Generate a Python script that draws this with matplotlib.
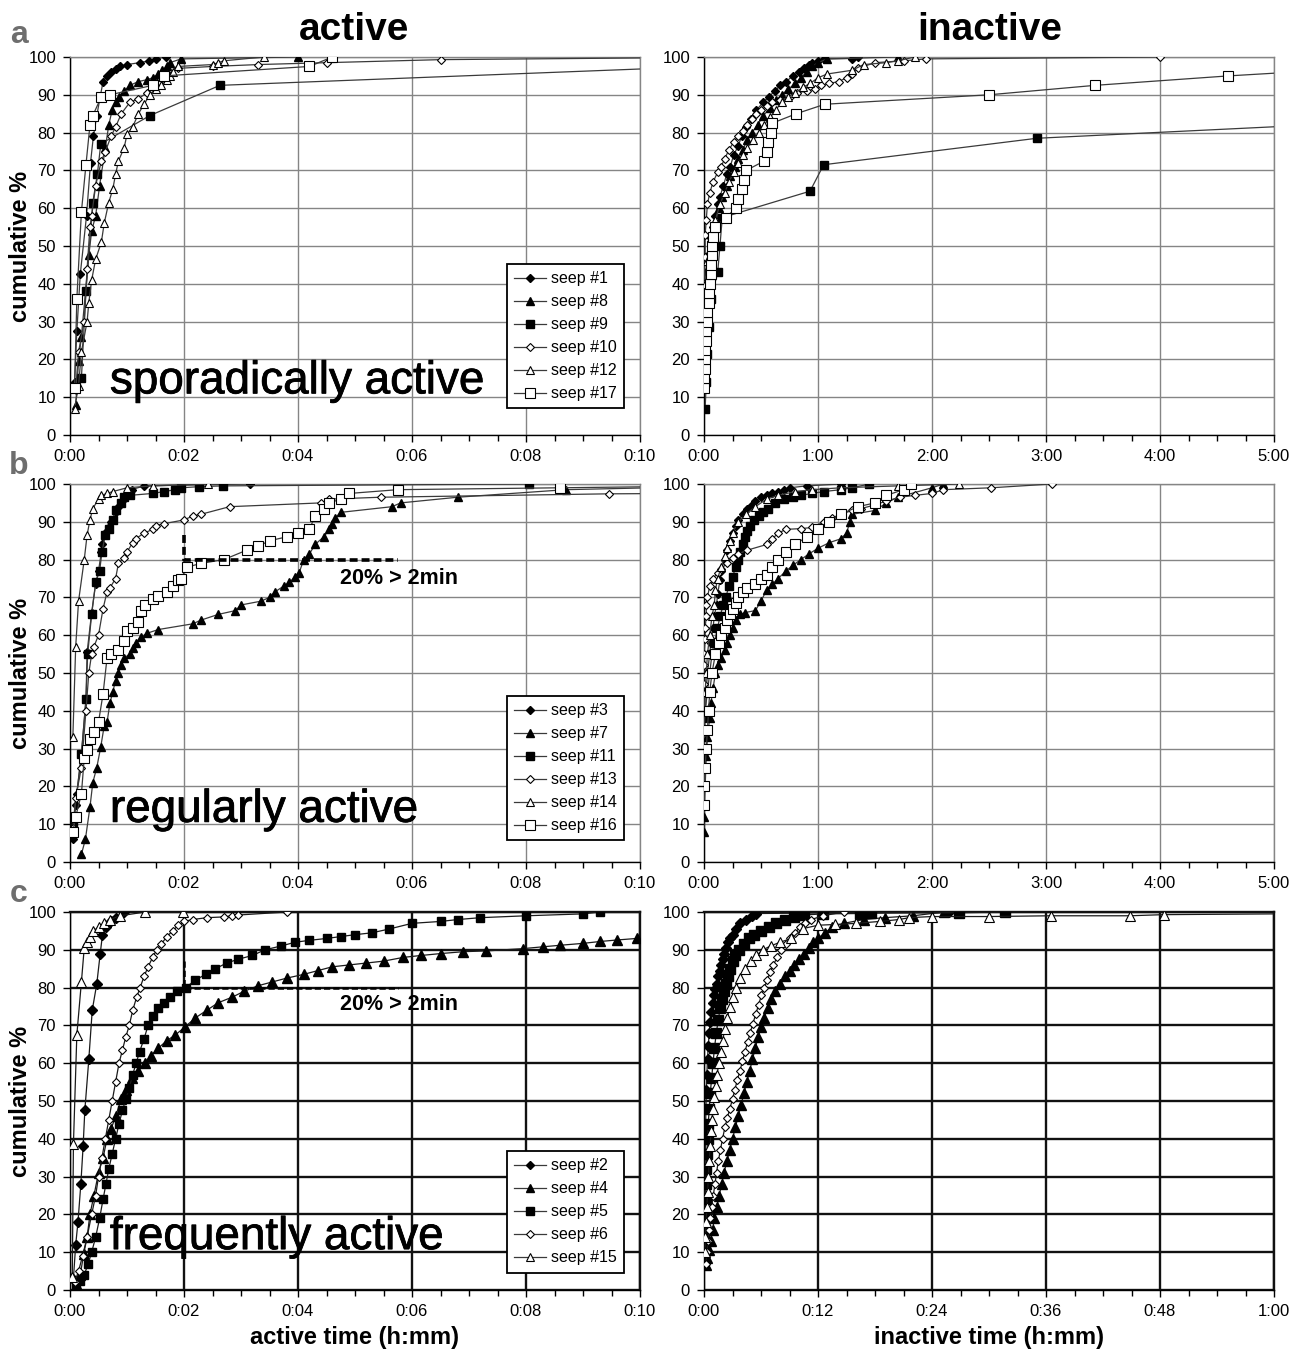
import matplotlib

matplotlib.use("Agg")
import matplotlib.pyplot as plt
from matplotlib import patheffects
from matplotlib.lines import Line2D
from matplotlib.ticker import MultipleLocator

plt.rcParams["font.family"] = ["Liberation Sans", "DejaVu Sans"]

# ---------------------------------------------------------------- data
# row a, sporadically active; active time in minutes, inactive time in hours
seep1_act_t = [0.08, 0.12, 0.18, 0.29, 0.36, 0.41, 0.47, 0.53, 0.58, 0.65, 0.72, 0.8, 0.88, 1.0, 1.22, 1.39, 1.5, 1.68]
seep1_act_pct = [14, 27.5, 42.5, 58, 72, 79, 84.5, 89.5, 93.5, 95, 96, 96.8, 97.5, 98, 98.5, 99, 99.5, 100]
seep8_act_t = [0.1, 0.15, 0.2, 0.33, 0.38, 0.45, 0.52, 0.62, 0.68, 0.74, 0.8, 0.86, 0.95, 1.05, 1.2, 1.35, 1.45, 1.55, 1.62, 1.7, 1.75, 1.95, 4.0]
seep8_act_pct = [8, 19.5, 26, 47.5, 54, 58, 66, 76, 82, 86, 88, 89.5, 91, 92.5, 93.5, 94, 94.5, 95.5, 96.5, 97.5, 98.5, 99.5, 100]
seep9_act_t = [0.2, 0.28, 0.4, 0.48, 0.54, 1.4, 2.63, 12.0]
seep9_act_pct = [15, 38, 61.5, 69, 77, 84.5, 92.5, 98]
seep10_act_t = [0.1, 0.15, 0.25, 0.3, 0.35, 0.38, 0.45, 0.55, 0.62, 0.72, 0.8, 0.9, 1.05, 1.2, 1.35, 1.45, 1.55, 1.7, 1.9, 2.5, 3.3, 4.5, 6.5, 12.0]
seep10_act_pct = [12, 22, 30, 44, 55, 58, 66, 72.5, 75, 79, 81.5, 85, 88, 89, 90.5, 92, 93.5, 95.5, 97, 97.5, 98, 98.5, 99.3, 100]
seep12_act_t = [0.08, 0.15, 0.2, 0.3, 0.33, 0.38, 0.45, 0.55, 0.6, 0.68, 0.75, 0.8, 0.85, 0.95, 1.0, 1.1, 1.2, 1.3, 1.4, 1.5, 1.6, 1.7, 1.75, 1.8, 1.9, 2.5, 2.6, 2.7, 3.4]
seep12_act_pct = [7, 13, 22, 30, 35, 41, 46.5, 51, 56, 61.5, 65, 69, 72.5, 76, 79.5, 81.5, 85, 87.5, 90, 91.5, 92.5, 94, 95, 96, 97.5, 98, 98.5, 99, 100]
seep17_act_t = [0.08, 0.12, 0.2, 0.28, 0.35, 0.4, 0.55, 0.7, 1.45, 1.65, 4.2, 4.6]
seep17_act_pct = [12.5, 36, 59, 71.5, 82, 84.5, 89.5, 90, 92.5, 95, 97.5, 100]

seep1_ina_t = [0.0, 0.01, 0.02, 0.04, 0.06, 0.08, 0.1, 0.12, 0.14, 0.17, 0.2, 0.23, 0.26, 0.3, 0.33, 0.37, 0.41, 0.46, 0.52, 0.57, 0.62, 0.67, 0.72, 0.78, 0.83, 0.88, 0.92, 0.95, 1.0, 1.05, 1.3, 1.35]
seep1_ina_pct = [33, 38, 43, 48, 52, 55, 58, 61, 63, 66, 69, 71, 74, 76.5, 79, 81.5, 83.5, 86, 88, 89.5, 91, 92.5, 93.5, 95, 96, 97, 98, 98.5, 99, 99.5, 99.6, 100]
seep8_ina_t = [0.0, 0.02, 0.05, 0.08, 0.1, 0.13, 0.16, 0.2, 0.23, 0.27, 0.3, 0.34, 0.38, 0.42, 0.47, 0.52, 0.58, 0.63, 0.68, 0.74, 0.8, 0.85, 0.9, 0.95, 1.0, 1.08, 1.7]
seep8_ina_pct = [28, 38, 46, 52, 56, 60, 63, 66, 68.5, 71, 73, 75.5, 78, 80, 82, 84.5, 86.5, 88.5, 90, 91.5, 93, 94.5, 96, 97.5, 98.5, 99.5, 100]
seep9_ina_t = [0.01, 0.02, 0.03, 0.04, 0.06, 0.12, 0.14, 0.16, 0.93, 1.05, 2.92, 6.0]
seep9_ina_pct = [7, 14, 21.5, 28.5, 36, 43, 50, 57.5, 64.5, 71.5, 78.5, 83]
seep10_ina_t = [0.0, 0.0, 0.01, 0.01, 0.02, 0.03, 0.05, 0.08, 0.12, 0.15, 0.18, 0.22, 0.26, 0.3, 0.34, 0.38, 0.42, 0.46, 0.5, 0.55, 0.6, 0.67, 0.75, 0.82, 0.9, 0.97, 1.03, 1.1, 1.18, 1.25, 1.3, 1.35, 1.5, 1.75, 1.95, 4.0]
seep10_ina_pct = [30, 40, 47, 53, 57, 61, 64, 67, 69.5, 71, 73, 75.5, 77.5, 79, 80.5, 82, 83.5, 85, 86, 87, 88, 88.5, 89.5, 90.5, 91, 91.5, 92.5, 93, 93.5, 94.5, 95.5, 97, 98.5, 99, 99.5, 100]
seep12_ina_t = [0.01, 0.03, 0.06, 0.1, 0.14, 0.18, 0.22, 0.26, 0.3, 0.34, 0.38, 0.43, 0.48, 0.53, 0.58, 0.63, 0.68, 0.74, 0.8, 0.87, 0.93, 1.0, 1.08, 1.3, 1.4, 1.6, 1.7, 1.85]
seep12_ina_pct = [40, 46, 52, 57, 61, 64, 67, 69.5, 72, 74, 76, 78, 80, 82, 84, 86, 88, 89.5, 90.5, 92, 93, 94.5, 95.5, 96.5, 98, 98.5, 99, 100]
seep17_ina_t = [0.0, 0.0, 0.01, 0.01, 0.01, 0.02, 0.02, 0.03, 0.03, 0.04, 0.04, 0.05, 0.06, 0.06, 0.07, 0.07, 0.08, 0.1, 0.19, 0.28, 0.3, 0.33, 0.35, 0.37, 0.53, 0.55, 0.56, 0.59, 0.6, 0.81, 1.06, 2.5, 3.43, 4.6, 6.0]
seep17_ina_pct = [12.5, 15, 17.5, 20, 22.5, 25, 27.5, 30, 32.5, 35, 37.5, 40, 42.5, 45, 47.5, 50, 52.5, 55, 57.5, 60, 62.5, 65, 67.5, 70, 72.5, 75, 77.5, 80, 82.5, 85, 87.5, 90, 92.5, 95, 97.5]

# row b, regularly active
seep3_act_t = [0.05, 0.1, 0.12, 0.2, 0.28, 0.3, 0.38, 0.45, 0.5, 0.55, 0.57, 0.62, 0.68, 0.72, 0.8, 0.84, 0.9, 0.95, 1.0, 1.05, 1.08, 1.3, 3.15]
seep3_act_pct = [6, 15, 18, 28.5, 43, 55.5, 66, 73.5, 77, 82, 84, 87, 88.5, 90, 92.5, 94, 95, 96, 97, 98, 98.5, 99.5, 100]
seep7_act_t = [0.2, 0.27, 0.35, 0.4, 0.47, 0.54, 0.6, 0.65, 0.7, 0.75, 0.8, 0.85, 0.9, 0.95, 1.05, 1.1, 1.15, 1.25, 1.35, 1.55, 2.15, 2.3, 2.6, 2.9, 3.0, 3.35, 3.5, 3.6, 3.75, 3.85, 3.95, 4.02, 4.1, 4.2, 4.3, 4.45, 4.55, 4.6, 4.65, 4.75, 5.65, 5.8, 6.8, 8.7, 12.0]
seep7_act_pct = [2, 6, 14.5, 21, 25, 30.5, 36, 37, 42, 45, 48, 50, 52, 54, 55, 56.5, 58, 59.5, 60.5, 61.5, 63, 64, 65.5, 66.5, 68, 69, 70, 71.5, 73, 74, 75.5, 76.5, 80, 81.5, 84, 86, 88, 89.5, 91, 92.5, 94, 95, 96.5, 98.5, 99.6]
seep11_act_t = [0.05, 0.2, 0.28, 0.31, 0.38, 0.45, 0.52, 0.56, 0.62, 0.68, 0.75, 0.8, 0.9, 0.95, 1.05, 1.45, 1.65, 1.85, 1.95, 2.27, 2.68, 8.05]
seep11_act_pct = [9.5, 28.5, 43, 55, 65.5, 74, 77, 82, 86.5, 88, 90.5, 93, 95, 96.5, 97, 97.5, 98, 98.5, 99, 99.3, 99.5, 100]
seep13_act_t = [0.05, 0.1, 0.2, 0.28, 0.33, 0.38, 0.42, 0.5, 0.58, 0.65, 0.7, 0.8, 0.85, 0.95, 1.0, 1.1, 1.15, 1.3, 1.45, 1.5, 1.65, 2.0, 2.15, 2.3, 2.8, 4.4, 4.55, 5.45, 9.45, 12.0]
seep13_act_pct = [9, 17, 25, 40, 50, 55, 57, 60, 67, 71.5, 72.5, 75, 79, 80.5, 82, 84.5, 85.5, 87, 88, 89, 89.5, 90.5, 91.5, 92, 94, 95, 96, 96.5, 97.4, 97.6]
seep14_act_t = [0.05, 0.1, 0.15, 0.25, 0.3, 0.35, 0.4, 0.5, 0.55, 0.65, 0.75, 1.0, 1.45, 2.42]
seep14_act_pct = [33, 57, 69, 80, 86.5, 90.5, 93.5, 96, 97, 97.5, 98, 99, 99.5, 100]
seep16_act_t = [0.05, 0.1, 0.2, 0.25, 0.3, 0.35, 0.42, 0.5, 0.58, 0.65, 0.72, 0.85, 0.95, 1.0, 1.1, 1.2, 1.25, 1.32, 1.45, 1.55, 1.7, 1.8, 1.9, 1.95, 2.05, 2.3, 2.7, 3.1, 3.3, 3.5, 3.8, 4.0, 4.2, 4.3, 4.45, 4.55, 4.75, 4.9, 5.75, 8.6, 12.0]
seep16_act_pct = [8, 12, 18, 27.5, 29.5, 32.5, 34.5, 37, 44.5, 54, 55, 56, 58.5, 61, 62, 63.5, 66.5, 68, 69.5, 70.5, 71.5, 73, 74.5, 75, 78, 79, 80, 82.5, 83.5, 85, 86, 87, 88, 91.5, 93.5, 95, 96, 97.5, 98.5, 99, 99.6]

seep3_ina_t = [0.0, 0.01, 0.02, 0.03, 0.05, 0.06, 0.08, 0.09, 0.11, 0.12, 0.14, 0.15, 0.18, 0.2, 0.23, 0.25, 0.28, 0.3, 0.34, 0.38, 0.42, 0.45, 0.5, 0.55, 0.6, 0.65, 0.7, 0.75, 0.9, 1.2]
seep3_ina_pct = [30, 38, 45, 50, 55, 58, 62, 65, 68, 71, 74.5, 77, 80, 82.5, 85, 87, 89, 90.5, 92, 93.5, 94.5, 95.5, 96.5, 97, 97.5, 98, 98.5, 99, 99.5, 100]
seep7_ina_t = [0.0, 0.0, 0.02, 0.03, 0.05, 0.06, 0.08, 0.1, 0.12, 0.15, 0.18, 0.2, 0.23, 0.25, 0.28, 0.32, 0.36, 0.45, 0.5, 0.55, 0.6, 0.65, 0.72, 0.78, 0.85, 0.92, 1.0, 1.1, 1.2, 1.25, 1.28, 1.3, 1.5, 1.6, 1.7, 2.0, 2.1]
seep7_ina_pct = [8, 12, 28, 33, 38, 42, 46, 50, 52, 54, 56, 58, 60, 62, 64, 65.5, 66, 66.5, 69, 72, 73.5, 75, 77, 78.5, 80, 81.5, 83, 84.5, 85.5, 87, 90, 92, 93, 95, 96.5, 99, 100]
seep11_ina_t = [0.0, 0.01, 0.03, 0.05, 0.07, 0.09, 0.12, 0.14, 0.17, 0.19, 0.22, 0.25, 0.28, 0.3, 0.32, 0.34, 0.36, 0.38, 0.4, 0.44, 0.48, 0.52, 0.56, 0.62, 0.7, 0.78, 0.85, 0.95, 1.05, 1.2, 1.3, 1.45]
seep11_ina_pct = [35, 40, 45, 50, 55, 58, 62, 65, 68, 70, 73, 75.5, 78, 80, 82, 84, 86, 87.5, 89, 90.5, 91.5, 92.5, 93.5, 95, 96, 96.5, 97, 97.5, 98, 98.5, 99, 100]
seep13_ina_t = [0.0, 0.0, 0.0, 0.01, 0.01, 0.02, 0.02, 0.03, 0.05, 0.08, 0.12, 0.15, 0.2, 0.25, 0.3, 0.38, 0.55, 0.6, 0.65, 0.72, 0.85, 0.95, 1.05, 1.12, 1.2, 1.3, 1.38, 1.5, 1.6, 1.72, 1.85, 2.0, 2.1, 2.52, 3.05]
seep13_ina_pct = [47, 52, 55, 59, 62, 65, 68, 70, 73, 75, 76.5, 77.5, 79, 80.5, 81.5, 82.5, 84, 85.5, 87, 88, 88.2, 88.5, 90, 91, 92, 93, 93.5, 94.5, 95.5, 96.5, 97, 97.5, 98.5, 99, 100]
seep14_ina_t = [0.0, 0.01, 0.02, 0.03, 0.05, 0.07, 0.09, 0.1, 0.12, 0.15, 0.18, 0.2, 0.23, 0.25, 0.3, 0.37, 0.45, 0.55, 0.65, 0.8, 0.95, 1.2, 1.7, 2.24]
seep14_ina_pct = [40, 45, 50, 55, 60, 65, 68, 72, 75, 78, 81, 83, 85, 87, 90, 92, 94, 96, 97, 98, 98.5, 99, 99.5, 100]
seep16_ina_t = [0.0, 0.0, 0.01, 0.02, 0.03, 0.04, 0.05, 0.07, 0.1, 0.13, 0.15, 0.18, 0.2, 0.23, 0.25, 0.28, 0.3, 0.34, 0.38, 0.45, 0.5, 0.55, 0.6, 0.65, 0.72, 0.8, 0.9, 1.0, 1.1, 1.2, 1.35, 1.5, 1.6, 1.75, 1.82]
seep16_ina_pct = [15, 20, 25, 30, 35, 40, 45, 50, 55, 58, 60, 62, 64, 65.5, 67, 68.5, 70, 71.5, 72.5, 73.5, 75, 76, 78, 80, 82, 84, 86, 88, 90, 92, 94, 95, 97, 98.5, 100]

# row c, frequently active; both panels in minutes
seep2_act_t = [0.06, 0.1, 0.14, 0.19, 0.23, 0.26, 0.33, 0.39, 0.47, 0.53, 0.57, 0.64, 0.72, 0.8, 0.94]
seep2_act_pct = [3, 12, 18, 28, 38, 47.5, 61, 74, 81, 89, 94, 96, 97.5, 98.5, 100]
seep4_act_t = [0.12, 0.18, 0.24, 0.3, 0.35, 0.42, 0.5, 0.58, 0.65, 0.72, 0.8, 0.9, 0.98, 1.08, 1.2, 1.31, 1.42, 1.55, 1.7, 1.85, 2.01, 2.2, 2.4, 2.6, 2.85, 3.05, 3.3, 3.55, 3.8, 4.1, 4.35, 4.6, 4.9, 5.2, 5.5, 5.85, 6.16, 6.5, 6.9, 7.3, 7.94, 8.3, 8.6, 9.0, 9.3, 9.6, 9.94]
seep4_act_pct = [1, 4, 9.5, 14, 20, 25, 31, 35, 40, 42.5, 46, 50.5, 53, 56, 58, 60, 62, 64, 66, 67.5, 69.5, 72, 74, 76, 77.5, 79, 80.5, 81.5, 82.5, 83.5, 84.5, 85.5, 86, 86.5, 87, 88, 88.5, 89, 89.5, 89.7, 90.3, 90.8, 91.2, 91.7, 92.2, 92.6, 93]
seep5_act_t = [0.1, 0.18, 0.25, 0.32, 0.38, 0.45, 0.52, 0.58, 0.63, 0.68, 0.74, 0.8, 0.86, 0.92, 0.98, 1.04, 1.1, 1.16, 1.22, 1.3, 1.37, 1.45, 1.55, 1.65, 1.75, 1.88, 2.03, 2.2, 2.38, 2.55, 2.75, 2.95, 3.2, 3.42, 3.7, 3.95, 4.2, 4.5, 4.75, 5.0, 5.3, 5.6, 6.0, 6.5, 6.8, 7.2, 8.0, 9.0, 9.3, 12.0]
seep5_act_pct = [1, 2.5, 4, 7, 10, 14, 19, 24, 28, 32, 36, 40, 44, 47.5, 50.5, 53.5, 57, 60, 63, 66.5, 70, 72.5, 74.5, 76, 77.5, 79, 80, 82, 83.5, 85, 86.5, 87.5, 88.5, 90, 91, 92, 92.5, 93, 93.5, 94, 94.5, 95.5, 97, 97.5, 98, 98.5, 99, 99.5, 100, 100]
seep6_act_t = [0.08, 0.15, 0.22, 0.3, 0.38, 0.45, 0.5, 0.56, 0.62, 0.68, 0.74, 0.8, 0.86, 0.92, 0.98, 1.04, 1.1, 1.17, 1.23, 1.3, 1.37, 1.45, 1.52, 1.6, 1.7, 1.8, 1.9, 2.0, 2.15, 2.4, 2.7, 2.85, 2.95, 3.8]
seep6_act_pct = [2, 5, 9, 14, 20, 25, 30, 35, 40, 45, 50, 55, 60, 63.5, 67, 70, 74, 77.5, 80, 83, 85.5, 88, 90, 91.5, 93.5, 95, 96.5, 97.5, 98, 98.5, 98.7, 99, 99.2, 100]
seep15_act_t = [0.04, 0.06, 0.12, 0.2, 0.25, 0.3, 0.35, 0.41, 0.5, 0.6, 0.7, 0.88, 1.32, 1.98]
seep15_act_pct = [3.5, 38.5, 67.5, 81.5, 90.5, 92, 93.5, 95, 96, 97, 98, 99, 100, 100]

seep2_ina_t = [0.02, 0.04, 0.06, 0.08, 0.1, 0.12, 0.14, 0.17, 0.2, 0.25, 0.3, 0.37, 0.45, 0.55, 0.65, 0.77, 0.9, 1.05, 1.2, 1.35, 1.5, 1.65, 1.8, 1.95, 2.1, 2.3, 2.5, 2.75, 3.0, 3.4, 3.8, 4.4, 5.0, 5.5, 25.8]
seep2_ina_pct = [6.5, 10, 14, 19, 24, 30, 36, 42, 48, 53, 57, 61, 64.5, 68, 71, 73.5, 76, 78, 79.5, 81, 83, 84.5, 86, 87.5, 89, 90.5, 92, 93, 94, 95.5, 97, 98, 99, 99.6, 100]
seep4_ina_t = [0.2, 0.35, 0.5, 0.7, 0.9, 1.1, 1.35, 1.6, 1.85, 2.1, 2.4, 2.7, 3.0, 3.3, 3.6, 3.9, 4.2, 4.5, 4.8, 5.1, 5.4, 5.7, 6.0, 6.3, 6.7, 7.1, 7.5, 8.0, 8.5, 9.0, 9.5, 10.0, 10.5, 11.0, 11.5, 12.0, 12.7, 13.5, 14.7, 16.8, 19.0, 22.0, 25.3]
seep4_ina_pct = [6.5, 8.5, 10.5, 13, 16, 19, 22, 25, 28, 31, 34, 37, 40, 43, 46, 49, 52, 55, 58, 61, 64, 67, 69.5, 72, 74.5, 77, 79, 81, 83, 84.5, 86, 87.5, 89, 90.5, 92, 93, 94.5, 96, 97, 98, 98.5, 99, 100]
seep5_ina_t = [0.05, 0.08, 0.1, 0.13, 0.16, 0.2, 0.25, 0.3, 0.37, 0.45, 0.55, 0.66, 0.8, 0.95, 1.1, 1.3, 1.5, 1.7, 1.9, 2.1, 2.3, 2.5, 2.75, 3.0, 3.3, 3.7, 4.2, 4.7, 5.3, 6.0, 6.8, 7.6, 8.5, 9.5, 10.5, 12.5, 16.4, 17.6, 26.8, 31.7]
seep5_ina_pct = [8, 12, 16, 20, 24, 28, 32, 36, 40, 44, 48, 52, 56, 60, 64, 68, 71.5, 74.5, 77, 79, 81, 83, 85, 87, 88.5, 90, 91.5, 93, 94, 95, 96, 97, 98, 98.8, 99.2, 99.5, 99.6, 99.7, 99.8, 100]
seep6_ina_t = [0.2, 0.3, 0.42, 0.55, 0.68, 0.82, 0.98, 1.15, 1.32, 1.5, 1.72, 1.95, 2.2, 2.45, 2.72, 3.0, 3.25, 3.5, 3.78, 4.05, 4.3, 4.58, 4.85, 5.15, 5.45, 5.75, 6.05, 6.35, 6.65, 6.95, 7.3, 7.7, 8.1, 8.6, 9.1, 9.6, 10.1, 10.6, 11.3, 12.5, 14.7]
seep6_ina_pct = [7, 10, 13, 16, 19, 22, 25, 28, 31, 34, 37, 40, 43, 45.5, 48, 50.5, 53, 55.5, 58, 60.5, 63, 65.5, 68, 70.5, 73, 75.5, 78, 80, 82, 84, 86, 88, 90, 91.5, 93, 94.5, 96, 97, 98, 99, 100]
seep15_ina_t = [0.1, 0.15, 0.22, 0.3, 0.38, 0.46, 0.55, 0.64, 0.74, 0.84, 0.95, 1.08, 1.22, 1.38, 1.55, 1.75, 1.95, 2.2, 2.45, 2.75, 3.05, 3.4, 3.8, 4.3, 4.9, 5.5, 6.2, 7.0, 8.0, 9.2, 10.4, 12.0, 13.8, 16.0, 18.5, 20.5, 21.6, 24.0, 30.0, 36.5, 44.8, 48.4, 66.0]
seep15_ina_pct = [10, 14, 18, 22, 26, 30, 34, 38, 42, 45, 48, 51, 54, 57, 60, 63, 66, 69, 72, 75, 77.5, 80, 82.5, 85, 87, 88.5, 90, 91, 92, 93, 95.6, 96.5, 96.7, 97, 97.5, 98, 98.5, 98.8, 98.8, 99, 99, 99.3, 99.6]

# "20% > 2min" guide in rows b and c
guide_t = [2.0, 2.0, 5.75]
guide_b_pct = [86.5, 80, 80]
guide_c_pct = [87, 80, 80]

pct_ticks = [0, 10, 20, 30, 40, 50, 60, 70, 80, 90, 100]
min_ticks = [0, 2, 4, 6, 8, 10]
min_labels = ["0:00", "0:02", "0:04", "0:06", "0:08", "0:10"]
hour_ticks = [0, 1, 2, 3, 4, 5]
hour_labels = ["0:00", "1:00", "2:00", "3:00", "4:00", "5:00"]
c_ina_ticks = [0, 12, 24, 36, 48, 60]
c_ina_labels = ["0:00", "0:12", "0:24", "0:36", "0:48", "1:00"]

# ---------------------------------------------------------------- styles
STYLE = {
    "fd": dict(marker="D", ms=4.5, mfc="black", mec="black"),
    "ft": dict(marker="^", ms=6, mfc="black", mec="black"),
    "fs": dict(marker="s", ms=5.5, mfc="black", mec="black"),
    "od": dict(marker="D", ms=3.8, mfc="white", mec="black", mew=0.8),
    "ot": dict(marker="^", ms=6, mfc="white", mec="black", mew=0.8),
    "os": dict(marker="s", ms=6.5, mfc="white", mec="black", mew=0.8),
}
BIG = dict(fontsize=33, ha="left", va="center", zorder=4,
           path_effects=[patheffects.withStroke(linewidth=0.6, foreground="black")])

W, H = 1293, 1351
fig = plt.figure(figsize=(W / 100, H / 100), dpi=100)
col_x = [70 / W, 704 / W]
ax_w = 570 / W
ax_h = 378 / H
row_bottom = [1 - 435 / H, 1 - 862 / H, 1 - 1290 / H]


def make_axes(row, col, xmax, ticks, labels, minor, dark):
    ax = fig.add_axes([col_x[col], row_bottom[row], ax_w, ax_h])
    ax.set_xlim(0, xmax)
    ax.set_ylim(0, 100)
    ax.set_xticks(ticks)
    ax.set_xticklabels(labels)
    ax.set_yticks(pct_ticks)
    ax.xaxis.set_minor_locator(MultipleLocator(minor))
    gc, gw = ("#111111", 1.7) if dark else ("#858585", 1.0)
    ax.grid(True, which="major", color=gc, lw=gw)
    ax.set_axisbelow(True)
    for side in ("left", "bottom"):
        ax.spines[side].set_color("black")
        ax.spines[side].set_linewidth(1.0)
    for side in ("top", "right"):
        ax.spines[side].set_color(gc)
        ax.spines[side].set_linewidth(gw)
    ax.tick_params(axis="both", which="major", direction="out", length=5,
                   width=1, labelsize=12, colors="black", pad=5)
    ax.tick_params(axis="x", which="minor", direction="out", length=4, width=1)
    ax.tick_params(axis="y", which="minor", length=0)
    return ax


def draw(ax, series, scale=1.0, color="#3a3a3a"):
    for t, pct, key in series:
        style = dict(STYLE[key])
        style["ms"] = style["ms"] * scale
        ax.plot(t, pct, color=color, lw=0.9, zorder=3, **style)


def add_legend(ax, names, keys, top):
    handles = [Line2D([], [], color="#3a3a3a", lw=0.9, **STYLE[k]) for k in keys]
    leg = ax.legend(handles, names, loc="upper right",
                    bbox_to_anchor=(0.972, top), fontsize=11.5, frameon=True,
                    fancybox=False, edgecolor="black", framealpha=1,
                    handlelength=2.0, handletextpad=0.3, labelspacing=0.5,
                    borderpad=0.45, borderaxespad=0)
    leg.get_frame().set_linewidth(1.3)
    leg.set_zorder(5)


# row a
ax = make_axes(0, 0, 10, min_ticks, min_labels, 0.5, False)
draw(ax, [(seep1_act_t, seep1_act_pct, "fd"), (seep8_act_t, seep8_act_pct, "ft"),
          (seep9_act_t, seep9_act_pct, "fs"), (seep10_act_t, seep10_act_pct, "od"),
          (seep12_act_t, seep12_act_pct, "ot"), (seep17_act_t, seep17_act_pct, "os")])
add_legend(ax, ["seep #1", "seep #8", "seep #9", "seep #10", "seep #12", "seep #17"],
           ["fd", "ft", "fs", "od", "ot", "os"], 0.452)
ax.text(0.07, 0.142, "sporadically active", transform=ax.transAxes, **BIG)

ax = make_axes(0, 1, 5, hour_ticks, hour_labels, 0.25, False)
draw(ax, [(seep1_ina_t, seep1_ina_pct, "fd"), (seep8_ina_t, seep8_ina_pct, "ft"),
          (seep9_ina_t, seep9_ina_pct, "fs"), (seep10_ina_t, seep10_ina_pct, "od"),
          (seep12_ina_t, seep12_ina_pct, "ot"), (seep17_ina_t, seep17_ina_pct, "os")])

# row b
ax = make_axes(1, 0, 10, min_ticks, min_labels, 0.5, False)
ax.plot(guide_t, guide_b_pct, color="black", lw=2.6, ls=(0, (2.2, 1.1)), zorder=4)
draw(ax, [(seep3_act_t, seep3_act_pct, "fd"), (seep7_act_t, seep7_act_pct, "ft"),
          (seep11_act_t, seep11_act_pct, "fs"), (seep13_act_t, seep13_act_pct, "od"),
          (seep14_act_t, seep14_act_pct, "ot"), (seep16_act_t, seep16_act_pct, "os")])
add_legend(ax, ["seep #3", "seep #7", "seep #11", "seep #13", "seep #14", "seep #16"],
           ["fd", "ft", "fs", "od", "ot", "os"], 0.439)
ax.text(0.07, 0.138, "regularly active", transform=ax.transAxes, **BIG)
ax.text(4.74, 75, "20% > 2min", fontsize=15.5, fontweight="bold",
        ha="left", va="center", zorder=4)

ax = make_axes(1, 1, 5, hour_ticks, hour_labels, 0.25, False)
draw(ax, [(seep3_ina_t, seep3_ina_pct, "fd"), (seep7_ina_t, seep7_ina_pct, "ft"),
          (seep11_ina_t, seep11_ina_pct, "fs"), (seep13_ina_t, seep13_ina_pct, "od"),
          (seep14_ina_t, seep14_ina_pct, "ot"), (seep16_ina_t, seep16_ina_pct, "os")])

# row c
ax = make_axes(2, 0, 10, min_ticks, min_labels, 0.5, True)
ax.plot(guide_t, guide_c_pct, color="black", lw=1.8, ls=(0, (2.5, 1.2)), zorder=4)
draw(ax, [(seep2_act_t, seep2_act_pct, "fd"), (seep4_act_t, seep4_act_pct, "ft"),
          (seep5_act_t, seep5_act_pct, "fs"), (seep6_act_t, seep6_act_pct, "od"),
          (seep15_act_t, seep15_act_pct, "ot")], scale=1.1, color="#1a1a1a")
add_legend(ax, ["seep #2", "seep #4", "seep #5", "seep #6", "seep #15"],
           ["fd", "ft", "fs", "od", "ot"], 0.367)
ax.text(0.07, 0.14, "frequently active", transform=ax.transAxes, **BIG)
ax.text(4.74, 75.4, "20% > 2min", fontsize=15.5, fontweight="bold",
        ha="left", va="center", zorder=4)
ax.set_xlabel("active time (h:mm)", fontsize=17, fontweight="bold", labelpad=5)

ax = make_axes(2, 1, 60, c_ina_ticks, c_ina_labels, 3, True)
draw(ax, [(seep2_ina_t, seep2_ina_pct, "fd"), (seep4_ina_t, seep4_ina_pct, "ft"),
          (seep5_ina_t, seep5_ina_pct, "fs"), (seep6_ina_t, seep6_ina_pct, "od"),
          (seep15_ina_t, seep15_ina_pct, "ot")], scale=1.2, color="#1a1a1a")
ax.set_xlabel("inactive time (h:mm)", fontsize=17, fontweight="bold", labelpad=5)

# titles, row letters and y labels
fig.text(354 / W, 1 - 30 / H, "active", fontsize=28, fontweight="bold",
         ha="center", va="center")
fig.text(990 / W, 1 - 30 / H, "inactive", fontsize=28, fontweight="bold",
         ha="center", va="center")
for letter, y in (("a", 35), ("b", 466), ("c", 894)):
    fig.text(19 / W, 1 - y / H, letter, fontsize=23, fontweight="bold",
             color="#6e6e6e", ha="center", va="center")
for y in (246, 673, 1101):
    fig.text(21 / W, 1 - y / H, "cumulative %", fontsize=17, fontweight="bold",
             rotation=90, ha="center", va="center")

fig.savefig("out.png", dpi=100, facecolor="white")
